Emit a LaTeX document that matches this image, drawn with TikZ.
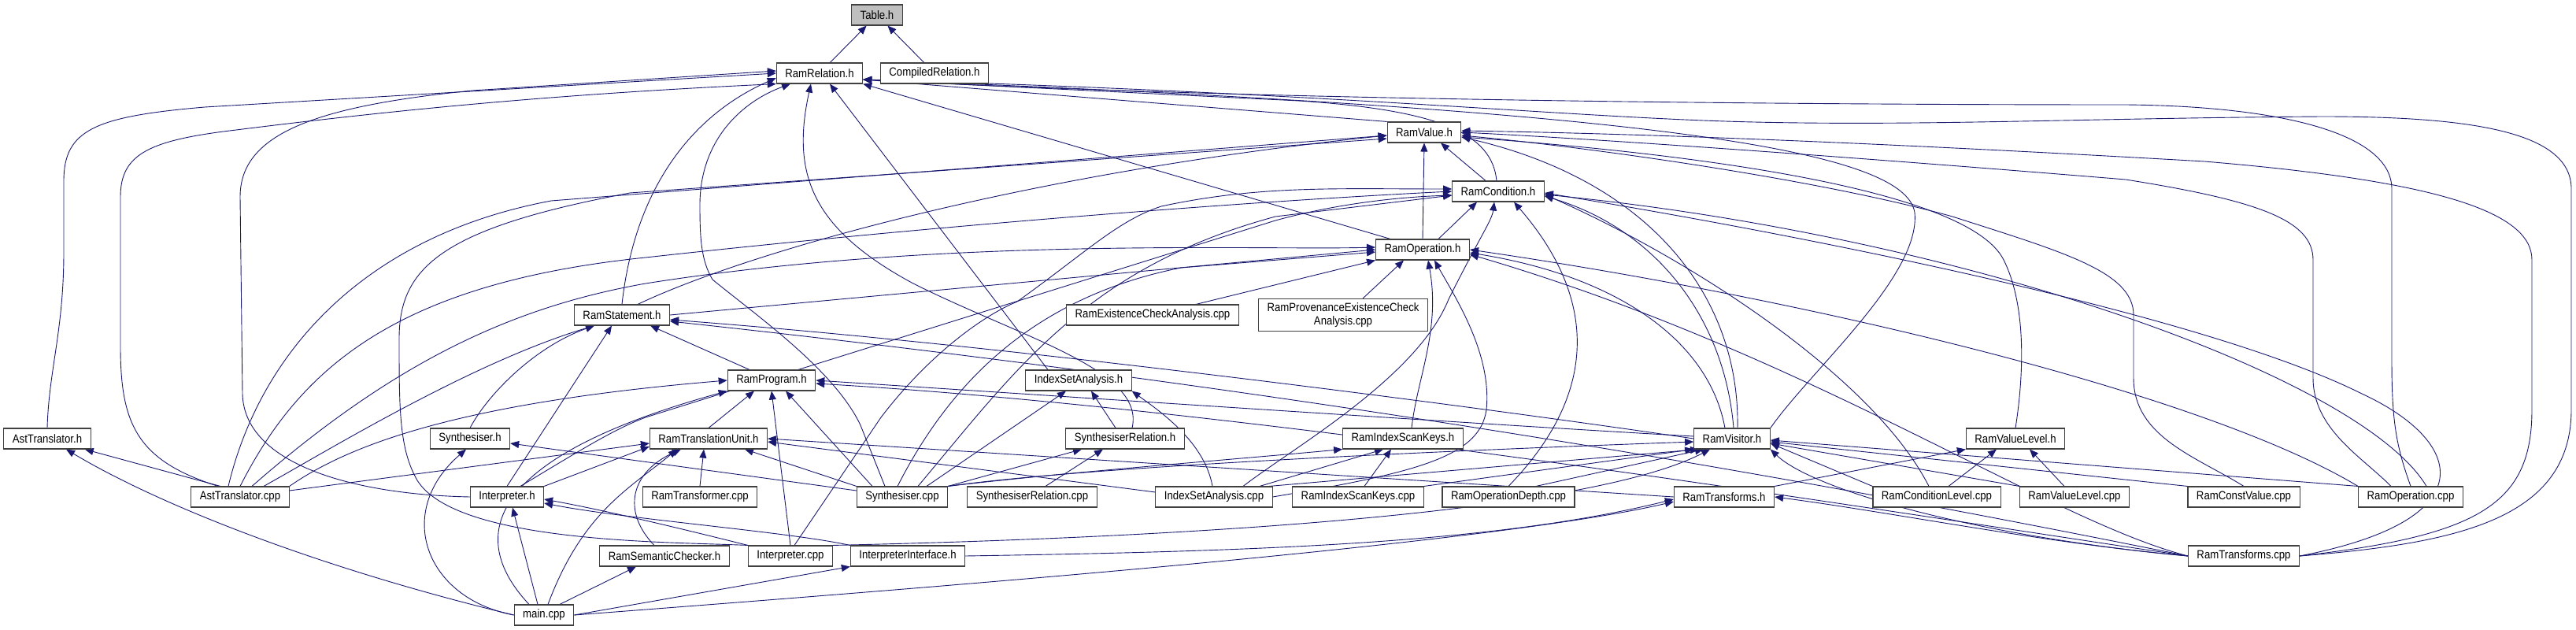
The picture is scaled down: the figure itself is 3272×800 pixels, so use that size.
\documentclass[tikz,border=0pt]{standalone}
\usepackage{fontspec}
\setmainfont{Liberation Sans}[FakeStretch=0.88]
\usetikzlibrary{arrows.meta,backgrounds}
\definecolor{edgeblue}{HTML}{191970}
\definecolor{boxline}{HTML}{404040}
\definecolor{curfill}{HTML}{BFBFBF}
\newcommand{\fifteen}{\fontsize{15}{17}\selectfont}
\tikzset{
 every node/.append style={font=\fifteen,align=center},
 file/.style={draw=boxline,fill=white,line width=1.1pt,inner xsep=11pt,inner ysep=2pt,minimum height=26pt},
 cur/.style={file,fill=curfill},
 dep/.style={draw=edgeblue,line width=.9pt,-{Triangle[length=11pt,width=9pt]}},
}

\begin{document}
\begin{tikzpicture}[x=1pt,y=-1pt]
\useasboundingbox (0,0) rectangle (3272,800);

\node[cur] (table) at (1114,19) {Table.h};
\node[file] (ramrel) at (1041,93) {RamRelation.h};
\node[file] (compiled) at (1187,93) {CompiledRelation.h};
\node[file] (ramvalue) at (1809,168) {RamValue.h};
\node[file] (ramcond) at (1903,243) {RamCondition.h};
\node[file] (ramop) at (1807,317) {RamOperation.h};
\node[file] (ramstmt) at (790,400) {RamStatement.h};
\node[file] (existchk) at (1464,400) {RamExistenceCheckAnalysis.cpp};
\node[file,minimum height=41pt] (provchk) at (1706,400) {RamProvenanceExistenceCheck\\Analysis.cpp};
\node[file] (ramprog) at (980,483) {RamProgram.h};
\node[file] (isah) at (1370,483) {IndexSetAnalysis.h};
\node[file] (asth) at (60,557) {AstTranslator.h};
\node[file] (synth) at (597,557) {Synthesiser.h};
\node[file] (rtu) at (900,557) {RamTranslationUnit.h};
\node[file] (synrelh) at (1429,557) {SynthesiserRelation.h};
\node[file] (iskh) at (1782,557) {RamIndexScanKeys.h};
\node[file] (visitor) at (2200,557) {RamVisitor.h};
\node[file] (vlevelh) at (2560,557) {RamValueLevel.h};
\node[file] (astcpp) at (305,631) {AstTranslator.cpp};
\node[file] (interph) at (644,631) {Interpreter.h};
\node[file] (rtfcpp) at (889,631) {RamTransformer.cpp};
\node[file] (syncpp) at (1146,631) {Synthesiser.cpp};
\node[file] (synrelcpp) at (1311,631) {SynthesiserRelation.cpp};
\node[file] (isacpp) at (1542,631) {IndexSetAnalysis.cpp};
\node[file] (iskcpp) at (1725,631) {RamIndexScanKeys.cpp};
\node[file] (opdepth) at (1916,631) {RamOperationDepth.cpp};
\node[file] (rtsh) at (2190,631) {RamTransforms.h};
\node[file] (condlvl) at (2460,631) {RamConditionLevel.cpp};
\node[file] (vlevelcpp) at (2635,631) {RamValueLevel.cpp};
\node[file] (constval) at (2850,631) {RamConstValue.cpp};
\node[file] (opcpp) at (3062,631) {RamOperation.cpp};
\node[file] (semchk) at (844,706) {RamSemanticChecker.h};
\node[file] (interpcpp) at (1004,706) {Interpreter.cpp};
\node[file] (interpif) at (1153,706) {InterpreterInterface.h};
\node[file] (rtscpp) at (2850,706) {RamTransforms.cpp};
\node[file] (main) at (691,781) {main.cpp};

\begin{scope}[on background layer]
\draw[dep] (ramrel) -- (table);
\draw[dep] (compiled) -- (table);

\draw[dep] (asth.north) .. controls (62,470) and (81,420) .. (81,320) -- (81,230) .. controls (81,165) and (120,148) .. (260,136) -- (ramrel.west);
\draw[dep] ([xshift=-28pt]astcpp.north) .. controls (175,585) and (153,540) .. (153,440) -- (153,250) .. controls (153,195) and (190,178) .. (300,165) .. controls (500,140) and (700,120) .. (ramrel.south west);
\draw[dep] (interph.west) .. controls (450,628) and (310,590) .. (308,500) -- (305,250) .. controls (305,170) and (400,135) .. (600,115) -- ([yshift=3pt]ramrel.west);
\draw[dep] (ramstmt.north) .. controls (805,250) and (870,150) .. ([yshift=-6pt]ramrel.west);
\draw[dep] ([xshift=-22pt]syncpp.north) -- (1093,540) .. controls (1060,470) and (960,400) .. (905,355) .. controls (890,330) and (889,300) .. (889,260) .. controls (889,180) and (940,130) .. ([xshift=-37pt]ramrel.south);
\draw[dep] ([xshift=9pt]synrelh.north) .. controls (1455,470) and (1300,430) .. (1160,360) .. controls (1030,290) and (1005,220) .. ([xshift=-11pt]ramrel.south);
\draw[dep] ([xshift=-39pt]isah.north) -- ([xshift=13pt]ramrel.south);
\draw[dep] ([xshift=-41pt]ramop.north) -- (ramrel.south east);
\draw[dep] (ramvalue.north west) -- ([yshift=-8pt]ramrel.east);
\draw[dep] ([xshift=-2pt]ramcond.north) .. controls (1895,170) and (1830,140) .. (1650,128) -- ([yshift=-8pt]ramrel.east);
\draw[dep] (visitor.north east) .. controls (2300,470) and (2440,350) .. (2432,270) .. controls (2420,190) and (2100,140) .. ([yshift=-8pt]ramrel.east);
\draw[dep] (opcpp.north) .. controls (3045,570) and (3038,540) .. (3038,460) -- (3038,240) .. controls (3038,170) and (2900,135) .. (2700,133) .. controls (2300,133) and (1600,128) .. ([yshift=-8pt]ramrel.east);
\draw[dep] (rtscpp.east) .. controls (3120,690) and (3266,660) .. (3266,520) -- (3266,240) .. controls (3266,170) and (3150,148) .. (2950,148) .. controls (2650,150) and (2450,160) .. (2228,155) .. controls (2000,150) and (1700,118) .. ([yshift=-8pt]ramrel.east);

\draw[dep] ([xshift=-16pt]ramcond.north) -- ([xshift=21pt]ramvalue.south);
\draw[dep] (ramop.north) -- (ramvalue.south);
\draw[dep] ([xshift=20pt]ramstmt.north) .. controls (950,320) and (1300,220) .. ([yshift=-4pt]ramvalue.west);
\draw[dep] ([xshift=-15pt]astcpp.north) .. controls (330,450) and (460,300) .. (700,255) -- ([yshift=-4pt]ramvalue.west);
\draw[dep] (interpcpp.north west) .. controls (850,688) and (580,690) .. (530,610) .. controls (507,570) and (507,520) .. (507,430) .. controls (507,340) and (560,290) .. (800,245) -- ([yshift=-8pt]ramvalue.west);
\draw[dep] ([xshift=7pt]visitor.north) .. controls (2210,380) and (2100,230) .. ([yshift=-6pt]ramvalue.east);
\draw[dep] (vlevelh.north) .. controls (2570,480) and (2575,390) .. (2545,330) .. controls (2500,240) and (2150,195) .. ([yshift=-6pt]ramvalue.east);
\draw[dep] (constval.north) .. controls (2790,580) and (2710,555) .. (2710,480) -- (2710,400) .. controls (2710,345) and (2620,320) .. (2480,275) .. controls (2300,225) and (2000,185) .. ([yshift=-4pt]ramvalue.east);
\draw[dep] ([xshift=-25pt]opcpp.north) .. controls (3000,580) and (2938,545) .. (2938,480) -- (2938,330) .. controls (2938,280) and (2870,255) .. (2700,228) .. controls (2300,195) and (2000,175) .. (ramvalue.east);
\draw[dep] (rtscpp.east) .. controls (3150,680) and (3216,640) .. (3216,520) -- (3216,330) .. controls (3216,270) and (3100,230) .. (2800,205) .. controls (2400,182) and (2100,170) .. ([yshift=2pt]ramvalue.east);

\draw[dep] ([xshift=20pt]ramop.north) -- ([xshift=-27pt]ramcond.south);
\draw[dep] (astcpp.north) .. controls (380,470) and (500,360) .. (820,327) .. controls (1200,285) and (1600,255) .. (ramcond.west);
\draw[dep] ([xshift=17pt]interph.north) .. controls (740,570) and (780,545) .. (820,530) -- (1620,280) .. controls (1700,258) and (1780,250) .. ([yshift=-5pt]ramcond.west);
\draw[dep] ([xshift=20pt]syncpp.north) .. controls (1290,470) and (1380,340) .. (1620,275) -- ([yshift=-5pt]ramcond.west);
\draw[dep] ([xshift=5pt]interpcpp.north) -- (1119,530) .. controls (1180,450) and (1250,400) .. (1292,383) .. controls (1380,320) and (1420,280) .. (1475,262) .. controls (1600,235) and (1700,240) .. ([yshift=3pt]ramcond.west);
\draw[dep] ([xshift=2pt]visitor.north) .. controls (2190,400) and (2100,290) .. ([yshift=-6pt]ramcond.east);
\draw[dep] ([xshift=37pt]isacpp.north) .. controls (1640,570) and (1800,480) .. (1840,380) .. controls (1880,300) and (1895,280) .. ([xshift=-5pt]ramcond.south);
\draw[dep] (opdepth.north) .. controls (2030,500) and (2030,380) .. ([xshift=20pt]ramcond.south);
\draw[dep] ([xshift=-10pt]condlvl.north) .. controls (2380,480) and (2150,330) .. ([yshift=-4pt]ramcond.east);
\draw[dep] ([xshift=20pt]opcpp.north) .. controls (3000,480) and (2500,300) .. ([yshift=-4pt]ramcond.east);
\draw[dep] (rtscpp.east) .. controls (3160,660) and (3130,560) .. (3000,500) .. controls (2800,400) and (2300,300) .. ([yshift=-2pt]ramcond.east);

\draw[dep] (ramstmt.east) -- (ramop.west);
\draw[dep] ([xshift=55pt]existchk.north) -- (ramop.south west);
\draw[dep] ([xshift=25pt]provchk.north) -- ([xshift=-24pt]ramop.south);
\draw[dep] ([xshift=11pt]iskh.north) .. controls (1800,480) and (1830,420) .. ([xshift=7pt]ramop.south);
\draw[dep] (isacpp.east) .. controls (1800,600) and (1880,580) .. (1888,520) .. controls (1895,450) and (1850,380) .. ([xshift=15pt]ramop.south);
\draw[dep] ([xshift=15pt]astcpp.north) .. controls (500,460) and (650,390) .. (820,360) .. controls (1200,300) and (1600,318) .. ([yshift=3pt]ramop.west);
\draw[dep] ([xshift=-6pt]syncpp.north) .. controls (1200,500) and (1300,380) .. (1500,340) -- ([yshift=-3pt]ramop.west);
\draw[dep] ([xshift=-9pt]visitor.north) .. controls (2170,430) and (2050,350) .. ([yshift=-4pt]ramop.east);
\draw[dep] (opcpp.north west) .. controls (2800,500) and (2300,380) .. (ramop.east);
\draw[dep] (rtscpp.west) .. controls (2600,660) and (2300,450) .. ([yshift=-6pt]ramop.east);

\draw[dep] ([xshift=-28pt]ramprog.north) -- ([xshift=36pt]ramstmt.south);
\draw[dep] ([xshift=30pt]astcpp.north) .. controls (420,570) and (600,460) .. ([xshift=-35pt]ramstmt.south);
\draw[dep] (synth.north) .. controls (620,500) and (680,440) .. ([xshift=-35pt]ramstmt.south);
\draw[dep] (interph.north) -- ([xshift=-13pt]ramstmt.south);
\draw[dep] (visitor.west) .. controls (1900,520) and (1300,440) .. ([yshift=-6pt]ramstmt.east);
\draw[dep] (rtscpp.west) .. controls (2500,650) and (1800,510) .. ([yshift=-8pt]ramstmt.east);

\draw[dep] (rtu.north) -- ([xshift=-22pt]ramprog.south);
\draw[dep] (interpcpp.north) -- (ramprog.south);
\draw[dep] ([xshift=-38pt]syncpp.north) -- ([xshift=18pt]ramprog.south);
\draw[dep] (astcpp.north east) .. controls (450,560) and (600,510) .. (ramprog.west);
\draw[dep] ([xshift=-19pt]main.north) .. controls (590,680) and (620,580) .. (ramprog.south west);
\draw[dep] ([yshift=3pt]visitor.west) .. controls (1900,540) and (1300,500) .. (ramprog.east);
\draw[dep] (rtscpp.west) .. controls (2400,650) and (1600,520) .. ([yshift=-4pt]ramprog.east);

\draw[dep] ([xshift=31pt]syncpp.north) -- ([xshift=-16pt]isah.south);
\draw[dep] ([xshift=-12pt]synrelh.north) -- ([xshift=16pt]isah.south);
\draw[dep] ([xshift=-2pt]isacpp.north) .. controls (1530,560) and (1470,520) .. (isah.south east);

\draw[dep] (syncpp.north east) -- ([xshift=-55pt]synrelh.south);
\draw[dep] ([xshift=17pt]synrelcpp.north) -- ([xshift=-28pt]synrelh.south);

\draw[dep] (rtfcpp.north) -- ([xshift=-6pt]rtu.south);
\draw[dep] (syncpp.north west) -- ([xshift=46pt]rtu.south);
\draw[dep] ([yshift=6pt]isacpp.west) -- ([yshift=-4pt]rtu.east);
\draw[dep] (rtsh.west) -- (rtu.east);
\draw[dep] ([yshift=8pt]astcpp.east) -- ([yshift=-6pt]rtu.west);
\draw[dep] (interph.north east) -- ([yshift=-10pt]rtu.west);
\draw[dep] ([xshift=5pt]main.north) .. controls (740,650) and (800,620) .. ([xshift=-40pt]rtu.south);
\draw[dep] ([xshift=-13pt]semchk.north) .. controls (790,650) and (800,600) .. ([xshift=-35pt]rtu.south);

\draw[dep] (interpcpp.north west) .. controls (900,680) and (780,650) .. ([yshift=-3pt]interph.east);
\draw[dep] (interpif.north west) .. controls (1000,675) and (800,660) .. ([yshift=-8pt]interph.east);
\draw[dep] ([xshift=-8pt]main.north) -- ([xshift=7pt]interph.south);

\draw[dep] ([xshift=-25pt]astcpp.north) -- ([xshift=-8pt]asth.south east);
\draw[dep] (main.west) .. controls (400,720) and (200,640) .. ([xshift=24pt]asth.south);
\draw[dep] ([yshift=8pt]syncpp.west) -- ([yshift=-6pt]synth.east);
\draw[dep] (main.west) .. controls (540,760) and (500,650) .. ([xshift=-5pt]synth.south);
\draw[dep] ([xshift=20pt]main.north) -- ([xshift=-36pt]semchk.south);
\draw[dep] (main.east) -- (interpif.south west);

\draw[dep] ([xshift=8pt]iskcpp.north) -- ([xshift=-15pt]iskh.south);
\draw[dep] (syncpp.north east) .. controls (1350,600) and (1550,585) .. (iskh.south west);
\draw[dep] ([xshift=58pt]isacpp.north) -- ([xshift=-25pt]iskh.south);

\draw[dep] (iskcpp.north east) -- (visitor.south west);
\draw[dep] (syncpp.north east) .. controls (1400,590) and (1900,570) .. ([yshift=-4pt]visitor.west);
\draw[dep] ([xshift=70pt]isacpp.north) -- ([xshift=-42pt]visitor.south);
\draw[dep] ([xshift=35pt]opdepth.north) -- ([xshift=-36pt]visitor.south);
\draw[dep] (interpcpp.north east) .. controls (1400,685) and (2000,660) .. ([xshift=-28pt]visitor.south);
\draw[dep] (rtscpp.west) .. controls (2500,680) and (2300,620) .. (visitor.south east);
\draw[dep] (condlvl.north west) -- ([yshift=-6pt]visitor.east);
\draw[dep] (vlevelcpp.north west) -- ([yshift=-6pt]visitor.east);
\draw[dep] (constval.north west) -- ([yshift=-4pt]visitor.east);
\draw[dep] (opcpp.north west) -- ([yshift=-2pt]visitor.east);

\draw[dep] ([xshift=15pt]condlvl.north) -- ([xshift=-24pt]vlevelh.south);
\draw[dep] ([xshift=-13pt]vlevelcpp.north) -- ([xshift=18pt]vlevelh.south);
\draw[dep] (rtsh.north east) -- (vlevelh.south west);

\draw[dep] (rtscpp.west) .. controls (2600,690) and (2400,650) .. (rtsh.east);
\draw[dep] (main.east) .. controls (1200,745) and (1900,690) .. ([yshift=-6pt]rtsh.west);
\draw[dep] (interpif.east) .. controls (1600,700) and (1900,690) .. ([yshift=-3pt]rtsh.west);
\end{scope}
\end{tikzpicture}
\end{document}
